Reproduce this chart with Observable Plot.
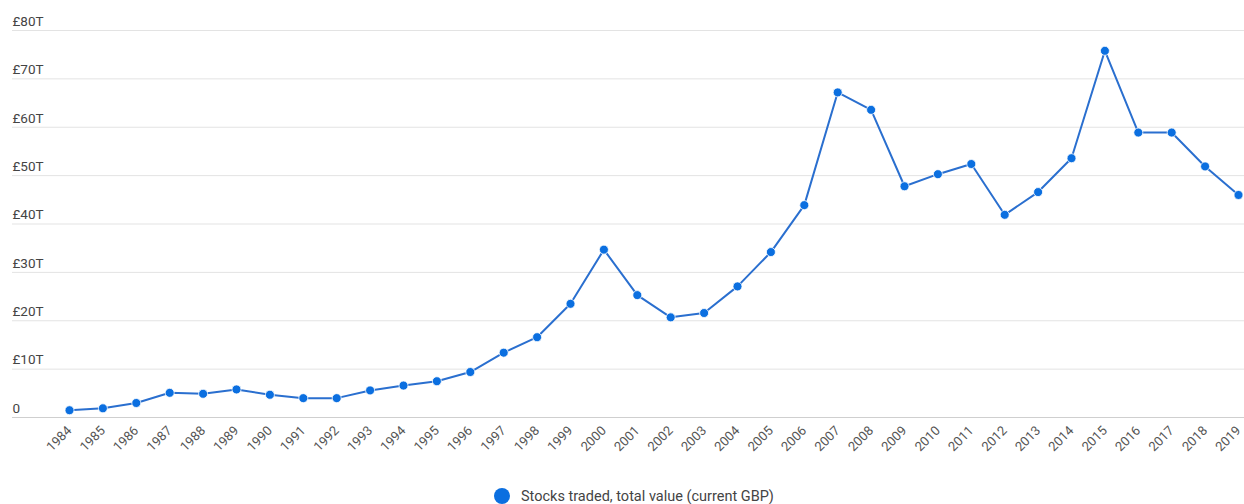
<!DOCTYPE html>
<html>
<head>
<meta charset="utf-8">
<script src="https://cdn.jsdelivr.net/npm/d3@7"></script>
<script src="https://cdn.jsdelivr.net/npm/@observablehq/plot@0.6"></script>
<style>
  html, body { margin: 0; padding: 0; background: #fff; }
  body { width: 1244px; font-family: Roboto, "Noto Sans", sans-serif; }
  #legend { display: flex; align-items: center; justify-content: flex-start; height: 24px; margin-top: 22px;
            padding-left: 494px; font-size: 14.5px; color: #444; }
  #legend .dot { width: 16px; height: 16px; border-radius: 50%; background: #0b6fe0; margin-right: 11px; }
</style>
</head>
<body>
<div id="chart"></div>
<div id="legend"><span class="dot"></span><span>Stocks traded, total value (current GBP)</span></div>
<script>
// Stocks traded, total value (current GBP), trillions
const years = [1984, 1985, 1986, 1987, 1988, 1989, 1990, 1991, 1992, 1993, 1994, 1995,
  1996, 1997, 1998, 1999, 2000, 2001, 2002, 2003, 2004, 2005, 2006, 2007, 2008, 2009,
  2010, 2011, 2012, 2013, 2014, 2015, 2016, 2017, 2018, 2019];
const values = [1.5, 1.9, 3.0, 5.1, 4.9, 5.8, 4.7, 4.0, 4.0, 5.6, 6.6, 7.5,
  9.4, 13.4, 16.6, 23.5, 34.7, 25.3, 20.7, 21.6, 27.1, 34.2, 43.9, 67.2, 63.6, 47.8,
  50.3, 52.4, 41.9, 46.6, 53.6, 75.8, 58.9, 58.9, 51.9, 46.0];
const yTicks = [0, 10, 20, 30, 40, 50, 60, 70, 80];
const seriesName = "Stocks traded, total value (current GBP)";

const data = years.map((year, i) => ({year, value: values[i]}));
const fmt = v => v === 0 ? "0" : `£${v}T`;

const chart = Plot.plot({
  width: 1244,
  height: 462,
  marginLeft: 69,
  marginRight: 6,
  marginTop: 30,
  marginBottom: 45,
  style: {fontFamily: "Roboto, 'Noto Sans', sans-serif", background: "#fff", overflow: "visible"},
  x: {domain: [1984, 2019], axis: null},
  y: {domain: [0, 80], axis: null},
  marks: [
    Plot.ruleY(yTicks, {stroke: d => d === 0 ? "#cfcfcf" : "#e3e3e3", strokeWidth: 1, insetLeft: -57, insetRight: -6}),
    Plot.text(yTicks, {
      y: d => d, text: fmt, frameAnchor: "left", textAnchor: "start",
      dx: -57, dy: -9, fontSize: 13.5, fill: "#444"
    }),
    Plot.axisX({
      ticks: years, tickFormat: d => String(d), tickSize: 0, tickRotate: -45,
      tickPadding: 4, fontSize: 13, color: "#555", anchor: "bottom", label: null, dx: 0, dy: 7
    }),
    Plot.line(data, {x: "year", y: "value", stroke: "#2a6fcf", strokeWidth: 2}),
    Plot.dot(data, {x: "year", y: "value", r: 4.5, fill: "#0b6fe0", stroke: "#fff", strokeWidth: 0.8, title: d => `${d.year}: ${fmt(d.value)}`})
  ]
});
chart.setAttribute("aria-label", seriesName);
document.getElementById("chart").appendChild(chart);
</script>
</body>
</html>
